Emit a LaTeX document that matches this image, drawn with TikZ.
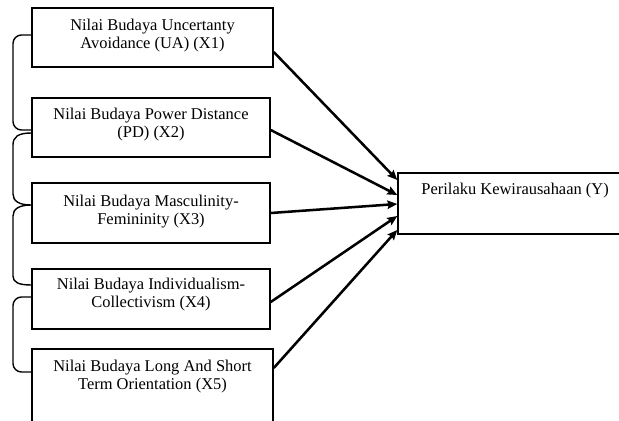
\documentclass[tikz,border=0pt]{standalone}
\usepackage{fontspec}
\setmainfont{Liberation Serif}
\usepackage{tikz}
\usetikzlibrary{arrows.meta}
\tikzstyle{box}=[draw=black,line width=1pt,inner sep=0pt]
\tikzstyle{txt}=[inner sep=0pt,align=center,anchor=north,font=\fontsize{11.7}{13}\selectfont]
\tikzstyle{arrow}=[-{Stealth[length=7pt,width=6pt,inset=1pt]},draw=black,line width=1.8pt]
\tikzstyle{brace}=[-,draw=black,line width=1pt]

\begin{document}
\begin{tikzpicture}[x=0.025cm,y=-0.025cm]
  \useasboundingbox (0,0) rectangle (619,421);
  \clip (0,0) rectangle (619,421);
  \node [style=box,minimum width=6.025cm,minimum height=1.475cm] (x1) at (152.5,37.5) {};
  \node [style=box,minimum width=5.95cm,minimum height=1.475cm] (x2) at (151,127.5) {};
  \node [style=box,minimum width=5.95cm,minimum height=1.5cm] (x3) at (151,213) {};
  \node [style=box,minimum width=5.95cm,minimum height=1.5cm] (x4) at (151,299) {};
  \node [style=box,minimum width=6.025cm,minimum height=2.775cm] (x5) at (152.5,404.5) {};
  \node [style=box,minimum width=6.3cm,minimum height=1.525cm] (y) at (524,203.5) {};
  \node [style=txt] (t1) at ([yshift=-8.1pt]x1.north) {Nilai Budaya Uncertanty\\Avoidance (UA) (X1)};
  \node [style=txt] (t2) at ([yshift=-7.6pt]x2.north) {Nilai Budaya Power Distance\\(PD) (X2)};
  \node [style=txt] (t3) at ([yshift=-8.8pt]x3.north) {Nilai Budaya Masculinity-\\Femininity (X3)};
  \node [style=txt] (t4) at ([yshift=-6.5pt]x4.north) {Nilai Budaya Individualism-\\Collectivism (X4)};
  \node [style=txt] (t5) at ([yshift=-8.1pt]x5.north) {Nilai Budaya Long And Short\\Term Orientation (X5)};
  \node [style=txt,anchor=north west] (ty) at ([xshift=17pt,yshift=-7.6pt]y.north west) {Perilaku Kewirausahaan (Y)};
  % kurung kiri
  \draw [style=brace,rounded corners=6pt] (x1.west |- 0,35) -- (13,35) -- (13,130) -- (x2.west |- 0,130);
  \draw [style=brace] (x2.west |- 0,133) .. controls (18,133) and (13,137) .. (13,145) -- (13,194) .. controls (13,201) and (19,205) .. (x3.west |- 0,205) .. controls (19,205) and (13,209) .. (13,216) -- (13,276) .. controls (13,282) and (18,285) .. (x4.west |- 0,285);
  \draw [style=brace,rounded corners=6pt] (x4.west |- 0,297) -- (13,297) -- (13,372) -- (x5.west |- 0,372);
  % panah ke Y
  \draw [style=arrow] (x1.east |- 0,52) to (y.west |- 0,180);
  \draw [style=arrow] (x2.east |- 0,130) to (y.west |- 0,195);
  \draw [style=arrow] (x3.east |- 0,213) to (y.west |- 0,204);
  \draw [style=arrow] (x4.east |- 0,302) to (y.west |- 0,216);
  \draw [style=arrow] (x5.east |- 0,368) to (y.west |- 0,230);
\end{tikzpicture}
\end{document}
